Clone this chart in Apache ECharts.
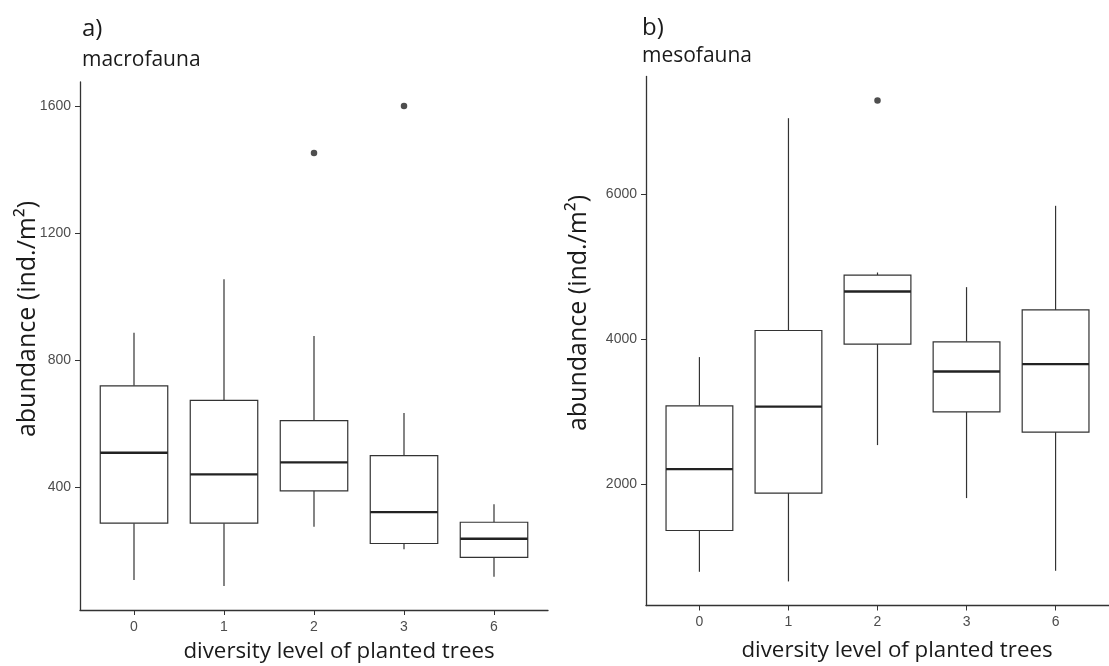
<!DOCTYPE html>
<html>
<head>
<meta charset="utf-8">
<title>Soil fauna abundance by tree diversity</title>
<script src="https://cdn.jsdelivr.net/npm/echarts@6/dist/echarts.min.js"></script>
<style>
  html, body { margin: 0; padding: 0; background: #ffffff; }
  #chart { width: 1109px; height: 666px; }
</style>
</head>
<body>
<div id="chart"></div>
<script>
// Diversity levels of planted trees (x categories)
const categories = ['0', '1', '2', '3', '6'];

// Box statistics per level: [lower whisker, Q1, median, Q3, upper whisker]
const macroStats = [
  [108, 287, 509, 720, 887],
  [89, 287, 441, 674, 1056],
  [276, 389, 479, 610, 877],
  [205, 223, 322, 500, 634],
  [118, 179, 238, 290, 347]
];
const macroOutliers = [[2, 1454], [3, 1602]];

const mesoStats = [
  [790, 1360, 2207, 3080, 3752],
  [657, 1876, 3070, 4119, 7048],
  [2538, 3931, 4657, 4883, 4919],
  [1807, 2997, 3553, 3963, 4717],
  [804, 2717, 3655, 4403, 5839]
];
const mesoOutliers = [[2, 7291]];

// y tick labels
const macroTicks = [400, 800, 1200, 1600];
const mesoTicks = [2000, 4000, 6000];

const AXIS_COLOR = '#333333';
const LABEL_COLOR = '#4d4d4d';
const TEXT_FONT = '"Open Sans", Lato, sans-serif';
const TICK_FONT = '"Liberation Sans", Arial, sans-serif';
const HALF_BOX = 0.375;

function renderBox(params, api) {
  const x = api.value(0);
  const lo = api.value(1), q1 = api.value(2), med = api.value(3), q3 = api.value(4), hi = api.value(5);
  const top = api.coord([x, hi]);
  const bottom = api.coord([x, lo]);
  const boxTL = api.coord([x - HALF_BOX, q3]);
  const boxBR = api.coord([x + HALF_BOX, q1]);
  const medL = api.coord([x - HALF_BOX, med]);
  const medR = api.coord([x + HALF_BOX, med]);
  const stroke = { stroke: AXIS_COLOR, lineWidth: 1.2, fill: null };
  return {
    type: 'group',
    children: [
      { type: 'line', shape: { x1: top[0], y1: top[1], x2: top[0], y2: boxTL[1] }, style: stroke },
      { type: 'line', shape: { x1: bottom[0], y1: boxBR[1], x2: bottom[0], y2: bottom[1] }, style: stroke },
      { type: 'rect', shape: { x: boxTL[0], y: boxTL[1], width: boxBR[0] - boxTL[0], height: boxBR[1] - boxTL[1] },
        style: { fill: '#ffffff', stroke: AXIS_COLOR, lineWidth: 1.2 } },
      { type: 'line', shape: { x1: medL[0], y1: medL[1], x2: medR[0], y2: medR[1] },
        style: { stroke: '#222222', lineWidth: 2.3 } }
    ]
  };
}

function xAxisFor(gridIndex) {
  return {
    type: 'value', gridIndex: gridIndex, min: -0.6, max: 4.6,
    splitLine: { show: false },
    axisLine: { show: true, onZero: false, lineStyle: { color: AXIS_COLOR, width: 1.3 } },
    axisTick: { show: true, length: 5, customValues: [0, 1, 2, 3, 4], lineStyle: { color: AXIS_COLOR, width: 1 } },
    axisLabel: {
      customValues: [0, 1, 2, 3, 4],
      formatter: v => categories[Math.round(v)],
      color: LABEL_COLOR, fontFamily: TICK_FONT, fontSize: 14, margin: 10
    }
  };
}

function yAxisFor(gridIndex, min, max, ticks) {
  return {
    type: 'value', gridIndex: gridIndex, min: min, max: max,
    splitLine: { show: false },
    axisLine: { show: true, onZero: false, lineStyle: { color: AXIS_COLOR, width: 1.3 } },
    axisTick: { show: true, length: 5, customValues: ticks, lineStyle: { color: AXIS_COLOR, width: 1 } },
    axisLabel: {
      customValues: ticks,
      formatter: v => String(Math.round(v)),
      color: LABEL_COLOR, fontFamily: TICK_FONT, fontSize: 14, margin: 9
    }
  };
}

function textEl(text, x, y, size, rotate) {
  return {
    type: 'text', x: x, y: y, rotation: rotate ? Math.PI / 2 : 0,
    style: { text: text, fill: '#1a1a1a', font: size + 'px ' + TEXT_FONT, align: 'center', verticalAlign: 'middle' }
  };
}

const chart = echarts.init(document.getElementById('chart'), null, { renderer: 'canvas' });
chart.setOption({
  animation: false,
  backgroundColor: '#ffffff',
  title: [
    { text: 'a)', left: 77, top: 12, textStyle: { fontFamily: TEXT_FONT, fontSize: 24, fontWeight: 'normal', color: '#1a1a1a' } },
    { text: 'macrofauna', left: 77, top: 45, textStyle: { fontFamily: TEXT_FONT, fontSize: 21, fontWeight: 'normal', color: '#1a1a1a' } },
    { text: 'b)', left: 637, top: 11, textStyle: { fontFamily: TEXT_FONT, fontSize: 24, fontWeight: 'normal', color: '#1a1a1a' } },
    { text: 'mesofauna', left: 637, top: 41, textStyle: { fontFamily: TEXT_FONT, fontSize: 21, fontWeight: 'normal', color: '#1a1a1a' } }
  ],
  grid: [
    { left: 80, top: 82, width: 468, height: 528 },
    { left: 646, top: 76.5, width: 468, height: 529 }
  ],
  xAxis: [xAxisFor(0), xAxisFor(1)],
  yAxis: [
    yAxisFor(0, 13.4, 1677.6, macroTicks),
    yAxisFor(1, 325, 7623, mesoTicks)
  ],
  graphic: [
    textEl('abundance (ind./m²)', 28, 319, 25, true),
    textEl('diversity level of planted trees', 339, 652, 22.3, false),
    textEl('abundance (ind./m²)', 579, 313, 25, true),
    textEl('diversity level of planted trees', 897, 651, 22.3, false)
  ],
  series: [
    {
      type: 'custom', xAxisIndex: 0, yAxisIndex: 0, renderItem: renderBox,
      encode: { x: 0, y: [1, 2, 3, 4, 5] },
      data: macroStats.map((s, i) => [i].concat(s))
    },
    {
      type: 'scatter', xAxisIndex: 0, yAxisIndex: 0, symbolSize: 6.5,
      itemStyle: { color: '#222222' }, data: macroOutliers
    },
    {
      type: 'custom', xAxisIndex: 1, yAxisIndex: 1, renderItem: renderBox,
      encode: { x: 0, y: [1, 2, 3, 4, 5] },
      data: mesoStats.map((s, i) => [i].concat(s))
    },
    {
      type: 'scatter', xAxisIndex: 1, yAxisIndex: 1, symbolSize: 6.5,
      itemStyle: { color: '#222222' }, data: mesoOutliers
    }
  ]
});
</script>
</body>
</html>
